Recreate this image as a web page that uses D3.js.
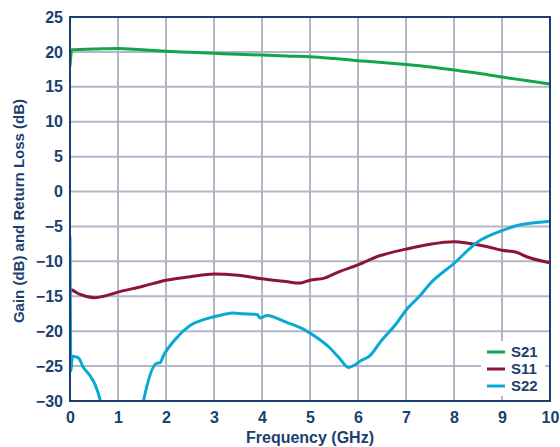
<!DOCTYPE html>
<html><head><meta charset="utf-8">
<script src="https://cdn.jsdelivr.net/npm/d3@7"></script>
<style>
html,body{margin:0;padding:0;background:#fff;}
svg{display:block;font-family:"Liberation Sans",Arial,sans-serif;}
</style></head>
<body>
<svg id="chart" width="560" height="447"></svg>
<script>
const xTicks = [0,1,2,3,4,5,6,7,8,9,10];
const yTicks = [-30,-25,-20,-15,-10,-5,0,5,10,15,20,25];
const seriesNames = ["S21","S11","S22"];
const seriesColors = ["#12a64b","#8b1538","#0aa8d4"];

const s21Freq = [0,0.04,0.5,1.0,1.5,2.0,2.5,3.0,3.5,4.0,4.5,5.0,5.5,6.0,6.5,7.0,7.5,8.0,8.44,9.0,9.5,10.0];
const s21Val  = [18.0,20.3,20.4,20.5,20.3,20.1,19.95,19.8,19.65,19.55,19.4,19.3,19.05,18.75,18.5,18.2,17.85,17.4,17.0,16.4,15.9,15.4];

const s11Freq = [0,0.04,0.2,0.52,0.7,1.0,1.5,2.0,2.5,3.0,3.5,4.0,4.5,4.8,5.0,5.3,5.6,6.0,6.45,7.0,7.5,8.0,8.33,8.7,9.0,9.3,9.5,10.0];
const s11Val  = [-14.0,-14.1,-14.7,-15.2,-15.0,-14.4,-13.6,-12.7,-12.2,-11.8,-12.0,-12.5,-12.9,-13.1,-12.7,-12.4,-11.5,-10.5,-9.2,-8.25,-7.55,-7.2,-7.45,-7.9,-8.4,-8.7,-9.3,-10.2];

const s22Freq = [0,0.02,0.05,0.17,0.28,0.42,0.52,0.625,0.66,null,1.50,1.53,1.8,1.88,1.94,2.19,2.5,2.85,3.2,3.4,3.6,3.9,3.96,4.1,4.5,4.86,5.14,5.4,5.6,5.8,5.94,6.04,6.25,6.46,6.8,7.0,7.28,7.5,8.0,8.5,9.0,9.3,9.65,10.0];
const s22Val  = [-6.5,-25.7,-23.6,-23.8,-25.2,-26.4,-27.6,-29.8,-31,null,-31,-30,-24.6,-24.5,-23.6,-21.2,-19.2,-18.2,-17.6,-17.4,-17.5,-17.6,-18.1,-17.75,-18.7,-19.7,-20.9,-22.3,-23.75,-25.2,-24.8,-24.3,-23.5,-21.6,-18.9,-17.0,-15.0,-13.2,-10.3,-7.2,-5.6,-4.9,-4.5,-4.3];

const svg = d3.select("#chart");
const L = 70, R = 550, T = 17, B = 401;
const x = d3.scaleLinear().domain([0,10]).range([L,R]);
const y = d3.scaleLinear().domain([-30,25]).range([B,T]);
const navy = "#1b3f6e";
const gridColor = "#b3b5c9";

// grid
svg.append("g").selectAll("line.v").data(xTicks.slice(1,-1)).join("line")
  .attr("x1",d=>x(d)).attr("x2",d=>x(d)).attr("y1",T).attr("y2",B)
  .attr("stroke",gridColor).attr("stroke-width",2);
svg.append("g").selectAll("line.h").data(yTicks.slice(1,-1)).join("line")
  .attr("x1",L).attr("x2",R).attr("y1",d=>y(d)).attr("y2",d=>y(d))
  .attr("stroke",gridColor).attr("stroke-width",2);

// clip
svg.append("clipPath").attr("id","clip").append("rect")
  .attr("x",L).attr("y",T).attr("width",R-L).attr("height",B-T);

const line = d3.line().defined(d=>d[0]!==null && d[1]!==null)
  .x(d=>x(d[0])).y(d=>y(d[1])).curve(d3.curveMonotoneX);

const data = [
  d3.zip(s21Freq,s21Val),
  d3.zip(s11Freq,s11Val),
  d3.zip(s22Freq,s22Val)
];
const g = svg.append("g").attr("clip-path","url(#clip)");
data.forEach((d,i)=>{
  g.append("path").datum(d).attr("d",line).attr("fill","none")
   .attr("stroke",seriesColors[i]).attr("stroke-width",3)
   .attr("stroke-linejoin","round").attr("stroke-linecap","round");
});

// frame
svg.append("rect").attr("x",L).attr("y",T).attr("width",R-L).attr("height",B-T)
  .attr("fill","none").attr("stroke",navy).attr("stroke-width",2);

// axes labels
const xAxis = d3.axisBottom(x).tickValues(xTicks).tickSize(0).tickPadding(11);
const gx = svg.append("g").attr("transform",`translate(0,${B})`).call(xAxis);
const yAxis = d3.axisLeft(y).tickValues(yTicks).tickSize(0).tickPadding(7);
const gy = svg.append("g").attr("transform",`translate(${L},0)`).call(yAxis);
[gx,gy].forEach(a=>{
  a.select(".domain").remove();
  a.selectAll("text").attr("fill",navy).attr("font-size",16).attr("font-weight","bold")
   .attr("font-family","Liberation Sans, Arial, sans-serif");
});

svg.append("text").attr("x",(L+R)/2).attr("y",443).attr("text-anchor","middle")
  .attr("fill",navy).attr("font-size",16).attr("font-weight","bold").text("Frequency (GHz)");
svg.append("text").attr("transform",`translate(24,211) rotate(-90)`)
  .attr("text-anchor","middle").attr("fill",navy).attr("font-size",15).attr("font-weight","bold")
  .text("Gain (dB) and Return Loss (dB)");

// legend
const lg = svg.append("g");
lg.append("rect").attr("x",481).attr("y",341).attr("width",64).attr("height",55).attr("fill","#fff");
seriesNames.forEach((n,i)=>{
  const yy = 352 + i*17;
  lg.append("line").attr("x1",487).attr("x2",505).attr("y1",yy).attr("y2",yy)
    .attr("stroke",seriesColors[i]).attr("stroke-width",3);
  lg.append("text").attr("x",511).attr("y",yy).attr("dy","0.36em")
    .attr("fill",navy).attr("font-size",15).attr("font-weight","bold").text(n);
});
</script>
</body></html>
